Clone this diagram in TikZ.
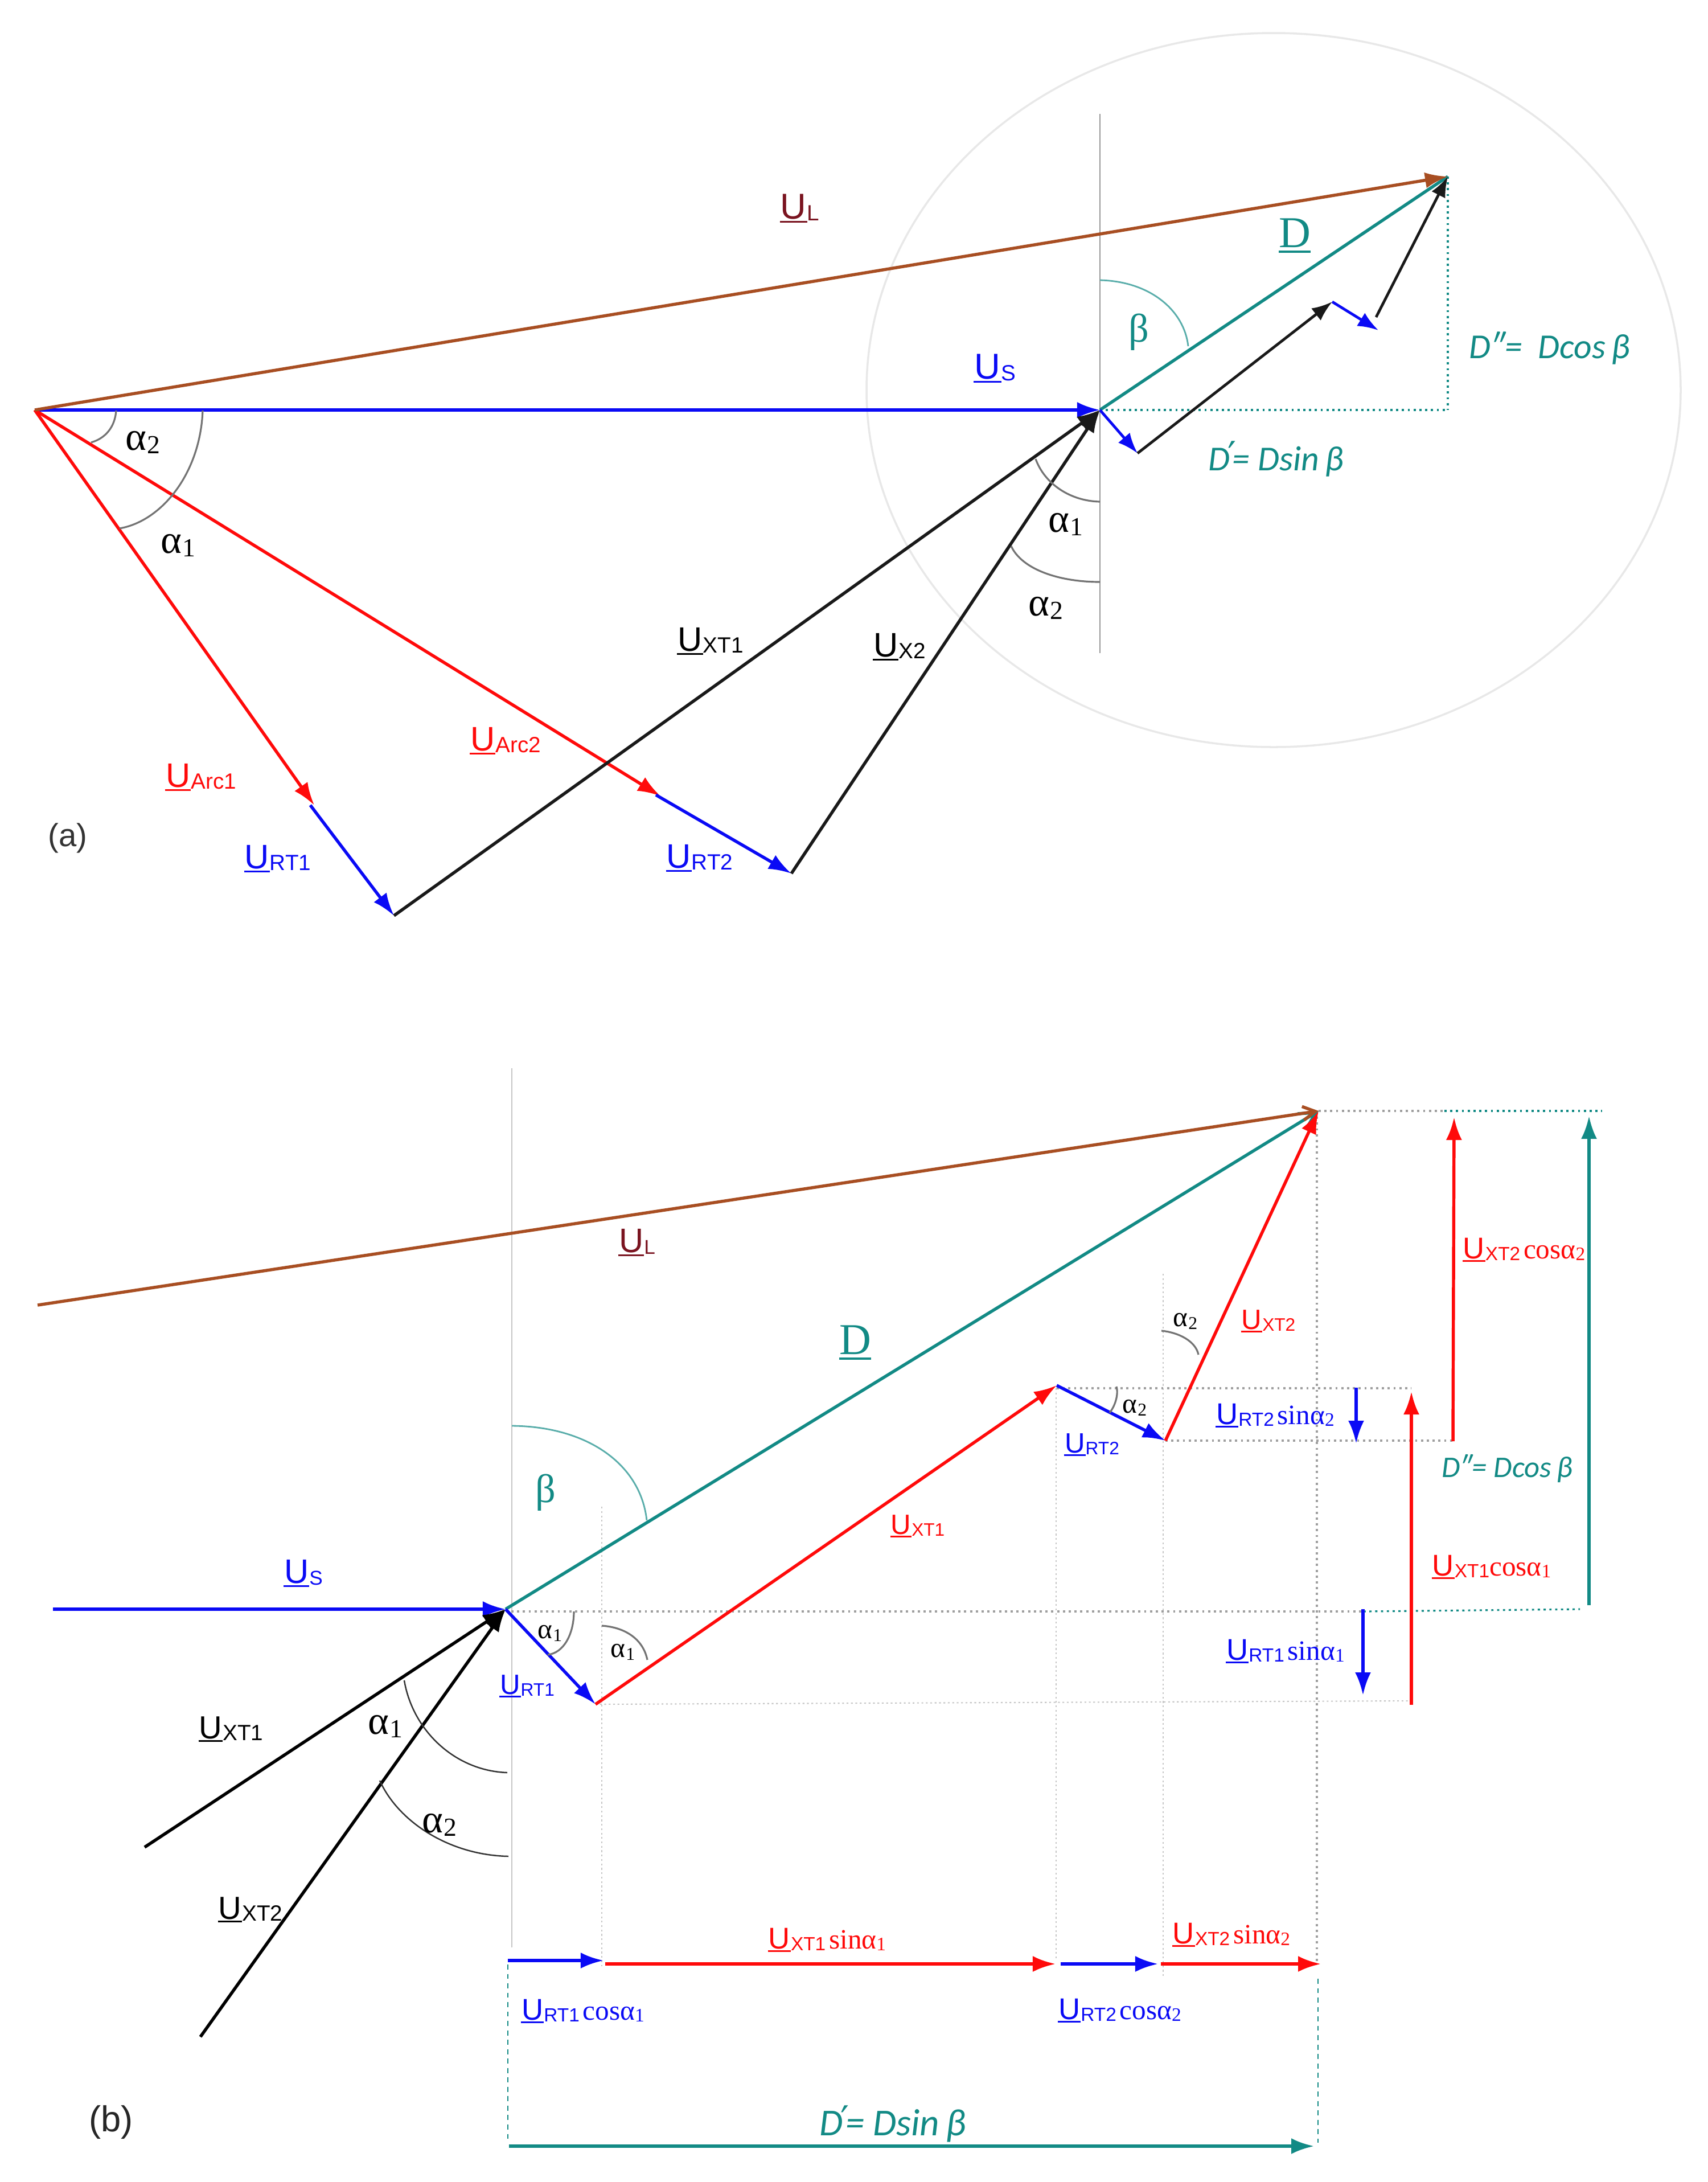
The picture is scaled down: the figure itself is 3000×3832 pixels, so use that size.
\documentclass[tikz,border=0pt]{standalone}
\usepackage{fontspec}
\setmainfont{Liberation Sans}
\newfontfamily\serf{Liberation Serif}
\newfontfamily\calb{Carlito}
\newfontfamily\dejav{DejaVu Sans}
\usetikzlibrary{arrows.meta}
\definecolor{tealx}{HTML}{128A85}
\definecolor{brownx}{HTML}{A84E22}
\definecolor{darkred}{HTML}{7A1420}
\definecolor{redx}{HTML}{FF0A0A}
\definecolor{bluex}{HTML}{0A0AF5}
\newcommand\fsz[1]{\fontsize{#1}{#1}\selectfont}
\newcommand\ulU{\leavevmode\rlap{\kern-0.02em\rule[-0.11em]{0.76em}{0.055em}}U}
\newcommand\ulD{\leavevmode\rlap{\rule[-0.12em]{0.72em}{0.05em}}D}
\newcommand\primech{{\dejav\upshape\fontsize{19}{19}\selectfont\kern-1pt\raisebox{1pt}{′}\kern-2pt}}
% big U + subscript
\newcommand\ulab[3]{{\fsz{#1}\ulU}\kern0.3pt{\fsz{#2}\raisebox{-1pt}{#3}}}
% alpha with subscript
\newcommand\alf[3]{{\serf\fsz{#1}α\kern0.2pt\raisebox{-1.5pt}{\fsz{#2}#3}}}
\newcommand\trig[2]{{\serf\fsz{14}#1α\raisebox{-1pt}{\fsz{9.5}#2}}}
\tikzset{
  x=0.01cm,y=-0.01cm,
  lab/.style={inner sep=0,outer sep=0,anchor=center},
  vec/.style={line width=1.55pt,-{Latex[length=0.4cm,width=0.28cm]}},
  thinvec/.style={line width=1.35pt,-{Latex[length=0.36cm,width=0.27cm]}},
  dotg/.style={gray!75,line width=0.9pt,dash pattern=on 1.1pt off 1.8pt},
  dotl/.style={gray!45,line width=0.6pt,dash pattern=on 0.9pt off 1.3pt},
  dott/.style={tealx,line width=0.9pt,dash pattern=on 1.1pt off 1.8pt},
  dasht/.style={tealx,line width=0.7pt,dash pattern=on 2.5pt off 2.2pt},
  guide/.style={gray!80,line width=0.7pt},
  angarc/.style={gray!90!black,line width=0.9pt},
}
\begin{document}
\begin{tikzpicture}
\useasboundingbox (0,0) rectangle (3000,3832);
% ---------- panel (a) coordinates
\coordinate (aO) at (61,720);
\coordinate (aS) at (1932,720);
\coordinate (aT) at (2543,310);
\coordinate (aA1) at (552,1414);
\coordinate (aR1s) at (545,1414);
\coordinate (aR1) at (692,1608);
\coordinate (aA2) at (1160,1398);
\coordinate (aR2s) at (1152,1396);
\coordinate (aR2) at (1390,1534);
\coordinate (aVt) at (1932,200);
\coordinate (aVb) at (1932,1147);
\coordinate (aC) at (2543,720);
\coordinate (aE) at (2237,685);
\coordinate (as1) at (1998,796);
\coordinate (as2) at (2340,530);
\coordinate (as3) at (2421,580);
\coordinate (as4) at (2417,557);
% ellipse and guides
\draw[gray!18,line width=1pt] (aE) ellipse [x radius=715,y radius=627];
\draw[guide] (aVt) -- (aVb);
\draw[dott] (aS) -- (aC);
\draw[dott] (aT) -- (aC);
% vectors
\draw[vec,bluex] (aO) -- (aS);
\draw[vec,redx] (aO) -- (aA1);
\draw[vec,redx] (aO) -- (aA2);
\draw[vec,bluex] (aR1s) -- (aR1);
\draw[vec,bluex] (aR2s) -- (aR2);
\draw[vec,black!90] (aR1) -- (aS);
\draw[vec,black!90] (aR2) -- (aS);
\draw[vec,tealx,-] (aS) -- (aT);
\draw[vec,brownx] (aO) -- (aT);
\draw[thinvec,bluex] (aS) -- (as1);
\draw[thinvec,black!90] (as1) -- (as2);
\draw[thinvec,bluex] (as2) -- (as3);
\draw[thinvec,black!90] (as4) -- (aT);
% arcs
\draw[angarc] (204,721) .. controls (202,750) and (185,770) .. (160,777);
\draw[angarc] (356,721) .. controls (352,830) and (285,915) .. (210,928);
\draw[angarc] (1819,806) .. controls (1835,850) and (1880,880) .. (1932,881);
\draw[angarc] (1776,959) .. controls (1795,1000) and (1860,1022) .. (1932,1022);
\draw[tealx!70,line width=0.8pt] (1932,492) .. controls (2020,494) and (2080,545) .. (2087,608);
% labels
\node[lab,text=darkred] (lUL) at (1405,366) {\ulab{18}{11}{L}};
\node[lab,text=bluex] (lUS) at (1748,647) {\ulab{18}{11}{S}};
\node[lab,text=tealx] (lD) at (2274,414) {\serf\fsz{22}\ulD};
\node[lab,text=tealx] (lB) at (2000,583) {\serf\fsz{20}β};
\node[lab,text=tealx] (lD2) at (2722,611) {\calb\itshape\fsz{17.5}D″=\ \ Dcos\,β};
\node[lab,text=tealx] (lD1) at (2241,806) {\calb\itshape\fsz{17.5}D\primech= Dsin\,β};
\node[lab] (la1) at (1872,921) {\alf{20}{13}{1}};
\node[lab] (la2) at (1837,1068) {\alf{20}{13}{2}};
\node[lab] (lb2) at (251,777) {\alf{20}{13}{2}};
\node[lab] (lb1) at (313,958) {\alf{20}{13}{1}};
\node[lab,text=redx] (lA1) at (353,1365) {\ulab{17}{11}{Arc1}};
\node[lab,text=redx] (lA2) at (888,1301) {\ulab{17}{11}{Arc2}};
\node[lab,text=bluex] (lR1) at (488,1508) {\ulab{17}{11}{RT1}};
\node[lab,text=bluex] (lR2) at (1229,1507) {\ulab{17}{11}{RT2}};
\node[lab] (lX1) at (1248,1126) {\ulab{17}{11}{XT1}};
\node[lab] (lX2) at (1580,1136) {\ulab{17}{11}{X2}};
\node[lab,text=black!80] (pa) at (119,1472) {\fsz{16}(a)};
% ---------- panel (b) coordinates
\coordinate (P) at (888,2826);
\coordinate (bSs) at (93,2826);
\coordinate (bT) at (2316,1951);
\coordinate (bLs) at (66,2292);
\coordinate (bR1) at (1046,2993);
\coordinate (bX1) at (1856,2433);
\coordinate (bR2) at (2047,2530);
\coordinate (bK1) at (254,3244);
\coordinate (bK2) at (352,3577);
\coordinate (gv0t) at (899,1876);
\coordinate (gv0b) at (899,3420);
\coordinate (gv1t) at (1057,2646);
\coordinate (gv1b) at (1057,3453);
\coordinate (gv2t) at (1855,2438);
\coordinate (gv2b) at (1855,3440);
\coordinate (gv3t) at (2043,2237);
\coordinate (gv3b) at (2043,3470);
\coordinate (gv4t) at (2313,1951);
\coordinate (gv4b) at (2313,3450);
% guides
\draw[guide,gray!45] (gv0t) -- (gv0b);
\draw[dotl] (gv1t) -- (gv1b);
\draw[dotl] (gv2t) -- (gv2b);
\draw[dotl] (gv3t) -- (gv3b);
\draw[dotg] (gv4t) -- (gv4b);
\draw[dotg] (bT) -- (2537,1951) coordinate (h1);
\draw[dott] (h1) -- (2814,1951);
\draw[dotg] (bX1) ++(0,5) -- (2479,2438);
\draw[dotg] (bR2) -- (2552,2530);
\draw[dotg] (P) ++(10,4) -- (2395,2830) coordinate (h2);
\draw[dott] (h2) -- (2775,2826);
\draw[dotl] (bR1) -- (2477,2987);
% vectors
\draw[vec,bluex] (bSs) -- (P);
\draw[vec,black] (bK1) -- (P);
\draw[vec,black] (bK2) -- (P);
\draw[vec,tealx,-{Straight Barb[length=0.28cm,width=0.3cm]}] (P) -- (bT);
\draw[vec,brownx,-{Straight Barb[length=0.22cm,width=0.24cm]}] (bLs) -- (bT);
\draw[vec,bluex] (P) -- (bR1);
\draw[vec,redx] (bR1) -- (bX1);
\draw[vec,bluex] (bX1) -- (bR2);
\draw[vec,redx] (bR2) -- (bT);
% projections
\draw[vec,bluex] (2382,2437) coordinate (s1) -- (2382,2535) coordinate (e1);
\draw[vec,bluex] (2394,2826) coordinate (s2) -- (2394,2977) coordinate (e2);
\draw[vec,redx] (2479,2994) coordinate (s3) -- (2479,2444) coordinate (e3);
\draw[vec,redx] (2552,2531) coordinate (s4) -- (2554,1962) coordinate (e4);
\draw[vec,tealx] (2791,2819) coordinate (s5) -- (2791,1960) coordinate (e5);
\draw[vec,bluex] (892,3443) coordinate (s6) -- (1060,3443) coordinate (e6);
\draw[vec,redx] (1063,3449) coordinate (s7) -- (1854,3449) coordinate (e7);
\draw[vec,bluex] (1863,3449) coordinate (s8) -- (2034,3449) coordinate (e8);
\draw[vec,redx] (2039,3449) coordinate (s9) -- (2320,3449) coordinate (e9);
\draw[vec,tealx] (894,3769) coordinate (s10) -- (2308,3769) coordinate (e10);
\draw[dasht] (892,3450) coordinate (d1) -- (892,3763) coordinate (d2);
\draw[dasht] (2315,3475) coordinate (d3) -- (2315,3763) coordinate (d4);
% arcs
\draw[tealx!70,line width=0.8pt] (899,2504) .. controls (1030,2505) and (1125,2570) .. (1136,2670);
\draw[angarc] (1008,2830) .. controls (1008,2870) and (990,2903) .. (962,2906);
\draw[angarc] (1057,2855) .. controls (1100,2858) and (1130,2880) .. (1137,2915);
\draw[black!80,line width=0.7pt] (710,2951) .. controls (725,3040) and (800,3110) .. (891,3113);
\draw[black!80,line width=0.7pt] (667,3127) .. controls (700,3200) and (790,3258) .. (893,3260);
\draw[angarc] (1961,2435) .. controls (1965,2450) and (1958,2470) .. (1949,2481);
\draw[angarc] (2040,2337) .. controls (2070,2340) and (2100,2355) .. (2105,2379);
% labels
\node[lab,text=darkred] (mUL) at (1119,2182) {\ulab{17}{10}{L}};
\node[lab,text=tealx] (mD) at (1502,2358) {\serf\fsz{22}\ulD};
\node[lab,text=tealx] (mB) at (958,2621) {\serf\fsz{20}β};
\node[lab,text=bluex] (mS) at (533,2763) {\ulab{17}{10}{S}};
\node[lab,text=bluex] (mR1) at (926,2961) {\ulab{14}{9}{RT1}};
\node[lab] (mX1) at (406,3037) {\ulab{16}{11}{XT1}};
\node[lab] (mX2) at (440,3354) {\ulab{16}{11}{XT2}};
\node[lab] (ma1) at (677,3032) {\alf{20}{13}{1}};
\node[lab] (ma2) at (772,3205) {\alf{20}{13}{2}};
\node[lab] (ma3) at (966,2868) {\alf{14}{9}{1}};
\node[lab] (ma4) at (1094,2901) {\alf{14}{9}{1}};
\node[lab] (ma5) at (1993,2472) {\alf{14}{9}{2}};
\node[lab] (ma6) at (2082,2320) {\alf{14}{9}{2}};
\node[lab,text=redx] (mRX1) at (1612,2680) {\ulab{14}{9}{XT1}};
\node[lab,text=redx] (mRX2) at (2228,2320) {\ulab{14}{9}{XT2}};
\node[lab,text=bluex] (mR2) at (1918,2537) {\ulab{14}{9}{RT2}};
\node[lab,text=bluex] (tR2s) at (2240,2486) {\ulab{15}{9.5}{RT2}\,\trig{sin}{2}};
\node[lab,text=bluex] (tR1s) at (2258,2900) {\ulab{15}{9.5}{RT1}\,\trig{sin}{1}};
\node[lab,text=redx] (tX2c) at (2677,2195) {\ulab{15}{9.5}{XT2}\,\trig{cos}{2}};
\node[lab,text=redx] (tX1c) at (2620,2752) {\ulab{15}{9.5}{XT1}\trig{cos}{1}};
\node[lab,text=tealx] (tD2) at (2647,2579) {\calb\itshape\fsz{15}D″= Dcos\,β};
\node[lab,text=redx] (tX1s) at (1453,3407) {\ulab{15}{9.5}{XT1}\,\trig{sin}{1}};
\node[lab,text=redx] (tX2s) at (2163,3398) {\ulab{15}{9.5}{XT2}\,\trig{sin}{2}};
\node[lab,text=bluex] (tR1c) at (1024,3532) {\ulab{15}{9.5}{RT1}\,\trig{cos}{1}};
\node[lab,text=bluex] (tR2c) at (1967,3531) {\ulab{15}{9.5}{RT2}\,\trig{cos}{2}};
\node[lab,text=tealx] (tD1) at (1568,3730) {\calb\itshape\fsz{19}D\primech= Dsin\,β};
\node[lab,text=black!85] (pb) at (195,3727) {\fsz{18}(b)};
\end{tikzpicture}
\end{document}
